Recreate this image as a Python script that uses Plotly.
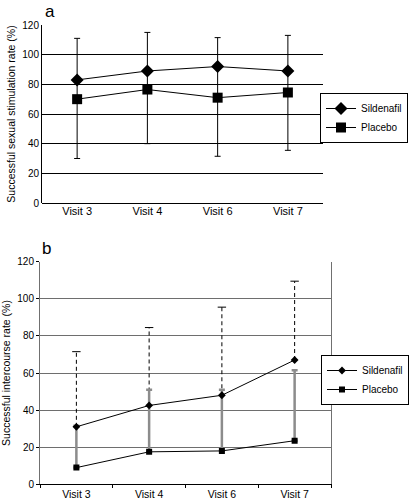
import plotly.graph_objects as go

visits = ["Visit 3", "Visit 4", "Visit 6", "Visit 7"]

# Panel a: successful sexual stimulation rate (%)
a_sild = [83, 89, 92, 89]
a_sild_upper = [111, 115, 111.5, 113]
a_plac = [70, 76.5, 71, 74.5]
a_plac_lower = [30, 40, 31.5, 35.5]

# Panel b: successful intercourse rate (%)
b_sild = [31, 42.5, 48, 67]
b_sild_upper = [71.5, 84.5, 95.5, 109.5]
b_plac = [9, 17.5, 18, 23.5]
b_plac_upper = [31.5, 51, 51, 61.5]

y_ticks = [0, 20, 40, 60, 80, 100, 120]
b_grid = [20, 40, 60, 80, 100]

FONT = "Arial, Liberation Sans, Helvetica, sans-serif"

fig = go.Figure()

# ---- Panel a ----
fig.add_trace(go.Scatter(
    x=visits, y=a_plac, name="Placebo", mode="lines+markers",
    line=dict(color="black", width=1),
    marker=dict(symbol="square", size=10, color="black"),
    error_y=dict(type="data", symmetric=False,
                 array=[u - v for u, v in zip(a_sild_upper, a_plac)],
                 arrayminus=[v - l for v, l in zip(a_plac, a_plac_lower)],
                 color="black", thickness=1, width=3),
    xaxis="x", yaxis="y", legend="legend", legendrank=2,
))
fig.add_trace(go.Scatter(
    x=visits, y=a_sild, name="Sildenafil", mode="lines+markers",
    line=dict(color="black", width=1),
    marker=dict(symbol="diamond", size=10, color="black"),
    xaxis="x", yaxis="y", legend="legend", legendrank=1,
))

# ---- Panel b ----
# dashed upper error for sildenafil
dx, dy = [], []
for v, s, u in zip(visits, b_sild, b_sild_upper):
    dx += [v, v, None]
    dy += [s, u, None]
fig.add_trace(go.Scatter(
    x=dx, y=dy, mode="lines", line=dict(color="black", width=1, dash="4px,3px"),
    showlegend=False, xaxis="x2", yaxis="y2", hoverinfo="skip",
))
fig.add_trace(go.Scatter(
    x=visits, y=b_sild_upper, mode="markers",
    marker=dict(symbol="line-ew-open", size=6, color="black",
                line=dict(color="black", width=1)),
    showlegend=False, xaxis="x2", yaxis="y2", hoverinfo="skip",
))
fig.add_trace(go.Scatter(
    x=visits, y=b_plac, name="Placebo", mode="lines+markers",
    line=dict(color="black", width=1),
    marker=dict(symbol="square", size=6, color="black"),
    error_y=dict(type="data", symmetric=False,
                 array=[u - v for u, v in zip(b_plac_upper, b_plac)],
                 arrayminus=[0] * 4,
                 color="#8c8c8c", thickness=2.5, width=3),
    xaxis="x2", yaxis="y2", legend="legend2", legendrank=2,
))
fig.add_trace(go.Scatter(
    x=visits, y=b_sild, name="Sildenafil", mode="lines+markers",
    line=dict(color="black", width=1),
    marker=dict(symbol="diamond", size=6, color="black"),
    xaxis="x2", yaxis="y2", legend="legend2", legendrank=1,
))

W, H = 410, 502
fig.update_layout(
    width=W, height=H, margin=dict(l=0, r=0, t=0, b=0, autoexpand=False),
    paper_bgcolor="white", plot_bgcolor="white",
    font=dict(family=FONT, color="black", size=10),
    xaxis=dict(domain=[42 / W, 323 / W], anchor="y", type="category",
               range=[-0.5, 3.5], showgrid=False, showline=False, ticks="",
               tickfont=dict(size=11), zeroline=False, automargin=False),
    yaxis=dict(domain=[1 - 203 / H, 1 - 25 / H], anchor="x", range=[0, 120],
               tickvals=y_ticks, showgrid=True,
               gridcolor="black", gridwidth=1, showline=True, linecolor="black",
               linewidth=1, ticks="", tickfont=dict(size=10),
               zeroline=True, zerolinecolor="black", zerolinewidth=1,
               automargin=False,
               title=dict(text="Successful sexual stimulation rate (%)",
                          font=dict(size=10.5), standoff=4)),
    xaxis2=dict(domain=[40 / W, 331 / W], anchor="y2", type="category",
                range=[-0.5, 3.5], showgrid=False, showline=True,
                linecolor="black", linewidth=1, ticks="outside", ticklen=3,
                tickson="boundaries", tickcolor="black",
                tickfont=dict(size=10.5), zeroline=False, automargin=False),
    yaxis2=dict(domain=[1 - 484.3 / H, 1 - 261.7 / H], anchor="x2", range=[0, 120],
                tickvals=y_ticks, showgrid=False,
                minor=dict(tickvals=b_grid, showgrid=True, gridcolor="#6e6e6e",
                           gridwidth=1, ticks=""),
                showline=True, mirror=True,
                linecolor="#707070", linewidth=1, ticks="outside", ticklen=3,
                tickcolor="black", tickfont=dict(size=10), zeroline=False,
                automargin=False,
                title=dict(text="Successful intercourse rate (%)",
                           font=dict(size=10.5), standoff=4)),
    legend=dict(x=408 / W, y=1 - 93 / H, xanchor="right", yanchor="top",
                bordercolor="black", borderwidth=1, bgcolor="white",
                font=dict(size=10), tracegroupgap=0, itemwidth=30),
    legend2=dict(x=409 / W, y=1 - 355 / H, xanchor="right", yanchor="top",
                 bordercolor="black", borderwidth=1, bgcolor="white",
                 font=dict(size=10), tracegroupgap=0, itemwidth=30),
    annotations=[
        dict(text="a", x=43 / W, y=1 - 0 / H, xref="paper", yref="paper",
             xanchor="left", yanchor="top", showarrow=False,
             font=dict(size=17)),
        dict(text="b", x=40 / W, y=1 - 237 / H, xref="paper", yref="paper",
             xanchor="left", yanchor="top", showarrow=False,
             font=dict(size=17)),
    ],
)

fig.write_html("out.html", config={"displayModeBar": False},
               post_script="document.body.style.margin='0px';document.body.style.padding='0px';")
